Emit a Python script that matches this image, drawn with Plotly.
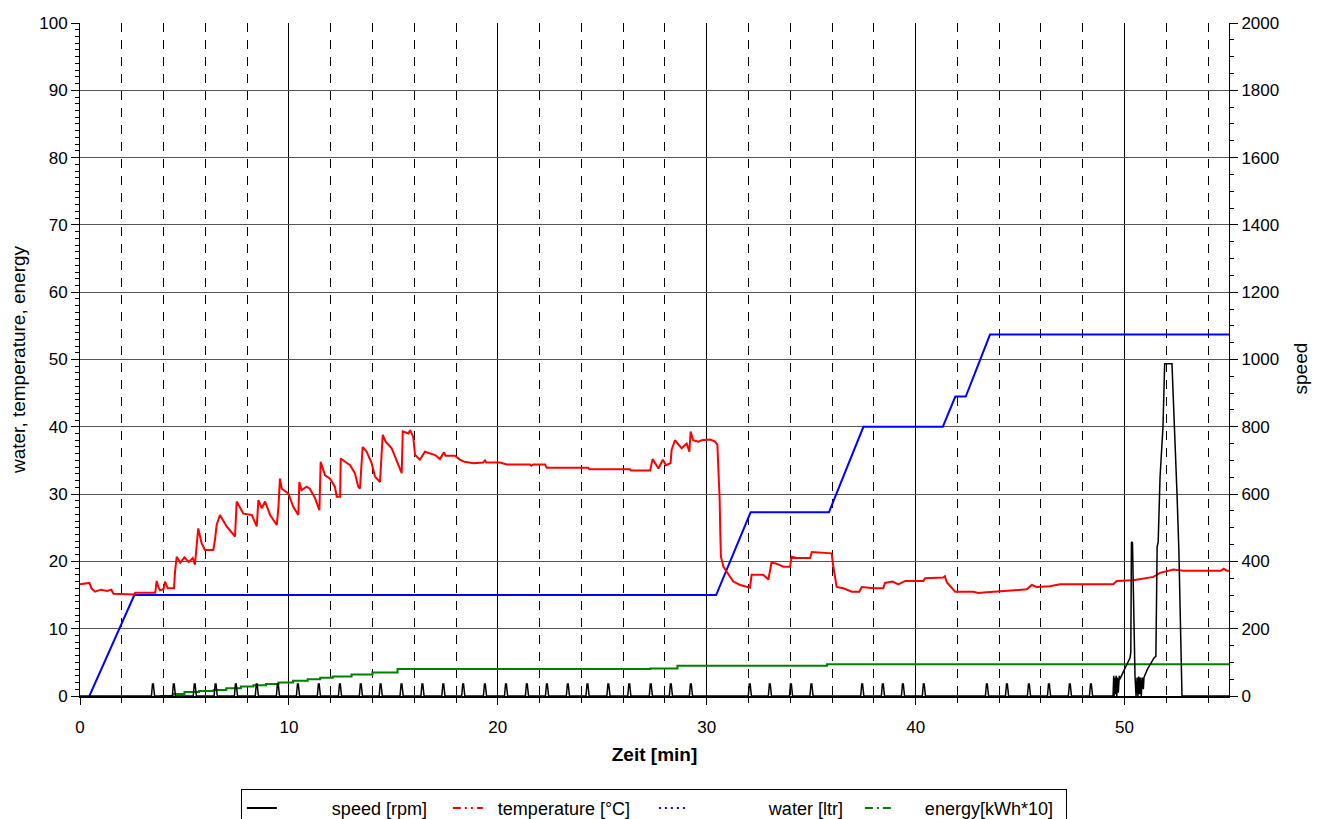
import plotly.graph_objects as go

# ── temperature [°C] (left axis) ─────────────────────────────────────────────
temp_t = [0, 0.45, 0.55, 0.72, 1.0, 1.3, 1.5, 1.6, 2.6, 2.65,
          3.6, 3.67, 3.75, 3.83, 4.0, 4.07, 4.2, 4.5, 4.55, 4.63,
          4.8, 5.0, 5.2, 5.4, 5.5, 5.58, 5.66, 5.82, 5.98, 6.38,
          6.46, 6.54, 6.7, 7.02, 7.42, 7.5, 7.82, 8.22, 8.46, 8.54,
          8.7, 8.86, 9.1, 9.42, 9.5, 9.57, 9.66, 9.97, 10.21, 10.45,
          10.5, 10.6, 10.85, 11.0, 11.25, 11.46, 11.52, 11.73, 11.97, 12.2,
          12.29, 12.45, 12.48, 12.69, 12.93, 13.16, 13.32, 13.4, 13.53, 13.72,
          13.96, 14.12, 14.36, 14.49, 14.63, 14.92, 15.16, 15.4, 15.45, 15.72,
          15.8, 15.95, 16.04, 16.27, 16.51, 17.0, 17.23, 17.42, 17.5, 17.95,
          18.19, 18.4, 18.83, 19.3, 19.39, 19.45, 20.1, 20.43, 21.54, 21.6,
          21.7, 22.26, 22.34, 24.33, 24.38, 26.33, 26.38, 27.29, 27.41, 27.5,
          27.69, 27.9, 28.05, 28.27, 28.32, 28.48, 28.65, 28.8, 29.04, 29.17,
          29.23, 29.35, 29.6, 29.76, 30.16, 30.4, 30.51, 30.56, 30.62, 30.65,
          30.68, 30.8, 31.03, 31.27, 31.6, 32.07, 32.15, 32.7, 32.95, 33.1,
          33.3, 33.67, 33.99, 34.07, 34.3, 34.95, 35.03, 35.98, 36.06, 36.22,
          36.54, 36.94, 37.3, 37.42, 37.98, 38.45, 38.53, 38.9, 39.17, 39.5,
          40.37, 40.45, 41.33, 41.4, 41.49, 41.73, 41.89, 42.76, 43.0, 43.4,
          44.36, 45.32, 45.56, 45.8, 46.43, 46.91, 49.46, 49.62, 50.42, 51.38,
          51.7, 52.34, 52.82, 53.6, 54.6, 54.75, 54.9, 55]
temp_c = [16.6, 16.8, 16.0, 15.5, 15.8, 15.6, 15.8, 15.2, 15.1, 15.35,
          15.35, 17.1, 16.2, 15.7, 15.9, 17.0, 16.0, 16.0, 18.5, 20.7,
          19.8, 20.6, 19.9, 20.5, 19.5, 22.2, 24.9, 22.7, 21.7, 21.7,
          23.2, 25.4, 26.9, 25.2, 23.7, 28.9, 27.1, 26.9, 25.2, 29.1,
          27.9, 28.9, 26.9, 25.4, 28.1, 32.3, 30.8, 30.1, 28.1, 26.9,
          31.8, 30.6, 31.1, 30.8, 29.4, 27.6, 34.8, 32.8, 32.3, 31.1,
          29.6, 29.6, 35.3, 34.8, 34.3, 33.1, 31.1, 30.8, 37.0, 36.3,
          34.6, 32.6, 31.8, 38.8, 37.8, 36.8, 34.8, 33.1, 39.3, 39.0,
          39.5, 38.5, 35.8, 35.1, 36.3, 35.8, 35.2, 36.2, 35.7, 35.7,
          35.1, 34.8, 34.6, 34.7, 35.0, 34.7, 34.7, 34.4, 34.4, 34.2,
          34.4, 34.4, 33.9, 33.9, 33.7, 33.7, 33.5, 33.5, 35.2, 34.8,
          33.8, 35.1, 34.3, 34.6, 36.6, 38.0, 37.3, 36.8, 37.5, 36.3,
          39.3, 38.0, 37.8, 38.0, 38.1, 37.8, 37.3, 34.1, 29.1, 24.2,
          20.7, 19.2, 18.2, 17.0, 16.5, 16.1, 18.0, 18.0, 17.3, 19.8,
          19.7, 19.2, 19.2, 20.7, 20.5, 20.5, 21.4, 21.2, 19.2, 16.2,
          16.0, 15.5, 15.5, 16.2, 16.0, 16.0, 16.8, 17.0, 16.6, 17.1,
          17.1, 17.5, 17.6, 17.8, 16.9, 16.0, 15.5, 15.5, 15.3, 15.4,
          15.6, 15.85, 16.5, 16.2, 16.3, 16.6, 16.6, 17.1, 17.2, 17.7,
          18.3, 18.8, 18.6, 18.6, 18.6, 18.9, 18.6, 18.6]

# ── water [ltr] (left axis) ──────────────────────────────────────────────────
water_t = [0.45, 2.6, 30.45, 32.1, 35.85, 37.5, 41.3, 41.9, 42.4, 43.56, 55]
water_l = [0, 15, 15, 27.3, 27.3, 40, 40, 44.5, 44.5, 53.7, 53.7]

# ── energy [kWh*10] (left axis, stepped) ─────────────────────────────────────
energy_t = [3.83, 4.45, 5.0, 5.7, 6.4, 7.0, 7.7, 8.3, 8.9, 9.5, 10.2,
            10.9, 11.5, 12.1, 13.0, 14.0, 15.2, 27.3, 28.6, 35.76, 55]
energy_v = [0, 0.3, 0.6, 0.75, 0.9, 1.15, 1.4, 1.6, 1.8, 2.0, 2.25,
            2.5, 2.7, 2.9, 3.2, 3.5, 4.0, 4.1, 4.5, 4.7, 4.7]

# ── speed [rpm] (right axis) ─────────────────────────────────────────────────
pulse_t = [3.5, 4.5, 5.5, 6.5, 7.47, 8.47, 9.48, 10.44, 11.44, 12.45, 13.45,
           14.4, 15.4, 16.4, 17.4, 18.35, 19.39, 20.4, 21.4, 22.36, 23.36,
           24.3, 25.3, 26.3, 27.33, 28.29, 29.25, 32.07, 33.03, 34.04, 35.02,
           37.45, 38.44, 39.4, 40.4, 43.42, 44.38, 45.43, 46.39, 47.39, 48.4]
pulse_rpm = 36

spin_t = [49.45, 49.48, 49.5, 49.53, 49.56, 49.6, 49.63, 49.66, 49.7, 49.75,
          49.78, 50.0, 50.26, 50.3, 50.33, 50.38, 50.45, 50.5, 50.55, 50.6,
          50.64, 50.68, 50.72, 50.76, 50.8, 50.85, 50.9, 50.93, 51.1, 51.41,
          51.5, 51.56, 51.61, 51.7, 51.84, 51.92, 52.27, 52.4, 52.51, 52.6,
          52.7, 52.75, 55]
spin_rpm = [0, 60, 0, 55, 5, 60, 0, 55, 10, 60,
            50, 80, 113, 130, 458, 455, 200, 60, 0, 55,
            0, 58, 5, 55, 0, 55, 20, 55, 80, 113,
            118, 443, 458, 651, 800, 987, 987, 800, 603, 434,
            137, 0, 0]

speed_t, speed_rpm = [0], [0]
for p in pulse_t:
    speed_t += [p - 0.08, p - 0.03, p + 0.01, p + 0.07]
    speed_rpm += [0, pulse_rpm, pulse_rpm, 0]
speed_t += spin_t
speed_rpm += spin_rpm

FONT = "Liberation Sans, Arial, sans-serif"
NB = "\u00a0"

fig = go.Figure()

fig.add_trace(go.Scatter(x=energy_t, y=energy_v, mode="lines", line_shape="hv",
                         line=dict(color="#008000", width=2), showlegend=False))
fig.add_trace(go.Scatter(x=water_t, y=water_l, mode="lines",
                         line=dict(color="#0000FF", width=2), showlegend=False))
fig.add_trace(go.Scatter(x=temp_t, y=temp_c, mode="lines",
                         line=dict(color="#FF0000", width=2), showlegend=False))
fig.add_trace(go.Scatter(x=speed_t, y=speed_rpm, mode="lines", yaxis="y2",
                         line=dict(color="black", width=1.5), showlegend=False))

# legend-only entries (the original legend has wide gaps between sample and text)
legend_items = [
    (NB * 10 + "speed [rpm]", "black", "solid"),
    (NB * 2 + "temperature [°C]", "#FF0000", "8px,4px,2px,4px,2px,4px"),
    (NB * 15 + "water [ltr]", "#0000FF", "2px,4px"),
    (NB * 5 + "energy[kWh*10]", "#008000", "8px,4px,2px,4px"),
]
for name, color, dash in legend_items:
    fig.add_trace(go.Scatter(x=[None], y=[None], mode="lines", name=name,
                             line=dict(color=color, width=2, dash=dash)))

fig.update_layout(
    width=1313, height=811,
    margin=dict(l=72, r=92, t=15, b=123, autoexpand=False),
    paper_bgcolor="white", plot_bgcolor="white",
    font=dict(family=FONT, size=17, color="black"),
    showlegend=True,
    legend=dict(orientation="h", x=0.14, xanchor="left", y=-0.138, yanchor="top",
                bordercolor="black", borderwidth=1, bgcolor="white",
                font=dict(size=18), entrywidth=161, entrywidthmode="pixels"),
    xaxis=dict(range=[0, 55], dtick=10, tick0=0, showline=True, linecolor="black",
               linewidth=1.5, ticks="outside", ticklen=7, tickcolor="black",
               showgrid=True, gridcolor="black", gridwidth=1, zeroline=False,
               ticklabelstandoff=8,
               minor=dict(dtick=2, showgrid=True, gridcolor="black", griddash="9px,8px",
                          ticks="outside", ticklen=5, tickcolor="black"),
               title=dict(text="<b>Zeit [min]</b>", font=dict(size=19), standoff=12)),
    yaxis=dict(range=[0, 100], dtick=10, showline=True, linecolor="black",
               ticks="outside", ticklen=8, tickcolor="black",
               showgrid=True, gridcolor="#555555", gridwidth=1, zeroline=False,
               minor=dict(dtick=1, ticks="outside", ticklen=4, tickcolor="black",
                          showgrid=False),
               title=dict(text="water, temperature, energy", font=dict(size=19),
                          standoff=14)),
    yaxis2=dict(range=[0, 2000], dtick=200, overlaying="y", side="right",
                showline=True, linecolor="black", ticks="outside", ticklen=8,
                tickcolor="black", showgrid=False, zeroline=False,
                minor=dict(dtick=50, ticks="outside", ticklen=4, tickcolor="black")),
    annotations=[dict(text="speed", textangle=-90, showarrow=False,
                      xref="paper", yref="paper", x=1.062, y=0.487,
                      xanchor="center", yanchor="middle", font=dict(size=19))],
)

fig.write_html("out.html")
